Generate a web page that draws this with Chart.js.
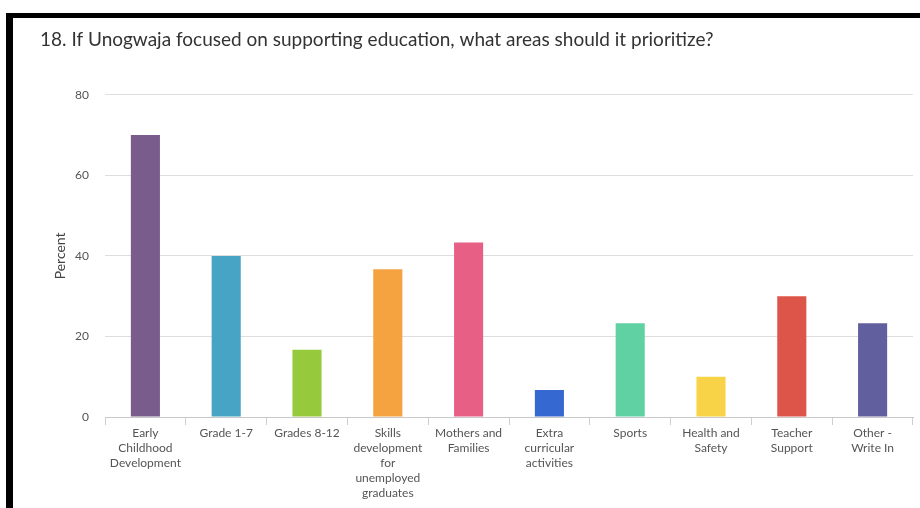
<!DOCTYPE html>
<html>
<head>
<meta charset="utf-8">
<script src="https://cdn.jsdelivr.net/npm/chart.js@4.4.1/dist/chart.umd.min.js"></script>
<style>
  html, body { margin: 0; padding: 0; background: #fff; }
  #wrap { position: relative; width: 920px; height: 508px; overflow: hidden; }
  canvas { position: absolute; left: 0; top: 0; }
  .bar { position: absolute; background: #000; }
</style>
</head>
<body>
<div id="wrap">
  <canvas id="c" width="920" height="508"></canvas>
  <div class="bar" style="left:6px; top:13px; width:914px; height:5px;"></div>
  <div class="bar" style="left:6px; top:13px; width:7px; height:495px;"></div>
</div>
<script>
const titleText = "18. If Unogwaja focused on supporting education, what areas should it prioritize?";
const categories = [
  ["Early", "Childhood", "Development"],
  ["Grade 1-7"],
  ["Grades 8-12"],
  ["Skills", "development", "for", "unemployed", "graduates"],
  ["Mothers and", "Families"],
  ["Extra", "curricular", "activities"],
  ["Sports"],
  ["Health and", "Safety"],
  ["Teacher", "Support"],
  ["Other -", "Write In"]
];
const percentValues = [70, 40, 16.7, 36.7, 43.3, 6.7, 23.3, 10, 30, 23.3];
const barColors = ["#7a5c8c", "#47a4c4", "#97c93c", "#f4a340", "#e85f85", "#3568d0", "#5fd1a3", "#f8d347", "#dd5549", "#625f9e"];
const yTicks = [0, 20, 40, 60, 80];
const yAxisTitle = "Percent";

const FONT = "Lato, 'Open Sans', sans-serif";

new Chart(document.getElementById('c'), {
  type: 'bar',
  data: {
    labels: categories,
    datasets: [{
      data: percentValues,
      backgroundColor: barColors,
      borderWidth: 0,
      barPercentage: 0.36,
      categoryPercentage: 1.0
    }]
  },
  options: {
    responsive: false,
    animation: false,
    devicePixelRatio: 1,
    layout: { padding: { left: 40, right: 7, top: 0, bottom: 0 } },
    plugins: {
      legend: { display: false },
      tooltip: { enabled: false },
      title: {
        display: true,
        text: titleText,
        align: 'start',
        color: '#333',
        font: { family: FONT, size: 19, weight: 'normal' },
        padding: { top: 28, bottom: 44 }
      }
    },
    scales: {
      y: {
        min: 0, max: 80,
        afterFit: (s) => { s.width = 65; },
        afterBuildTicks: (s) => { s.ticks = yTicks.map(v => ({ value: v })); },
        ticks: { color: '#555', font: { family: FONT, size: 12 }, padding: 16 },
        grid: { color: '#dedede', drawTicks: false, lineWidth: 1 },
        border: { display: false },
        title: {
          display: true, text: yAxisTitle, color: '#444',
          font: { family: FONT, size: 14 },
          padding: { top: 12, bottom: 0 }
        }
      },
      x: {
        afterFit: (s) => { s.height = 91; },
        ticks: { color: '#555', font: { family: FONT, size: 12, lineHeight: 1.25 }, padding: 1, maxRotation: 0, autoSkip: false },
        grid: { display: true, drawOnChartArea: false, offset: true, tickLength: 8, color: '#d0d0d0' },
        border: { display: true, color: '#c8c8c8' }
      }
    }
  }
});
</script>
</body>
</html>
